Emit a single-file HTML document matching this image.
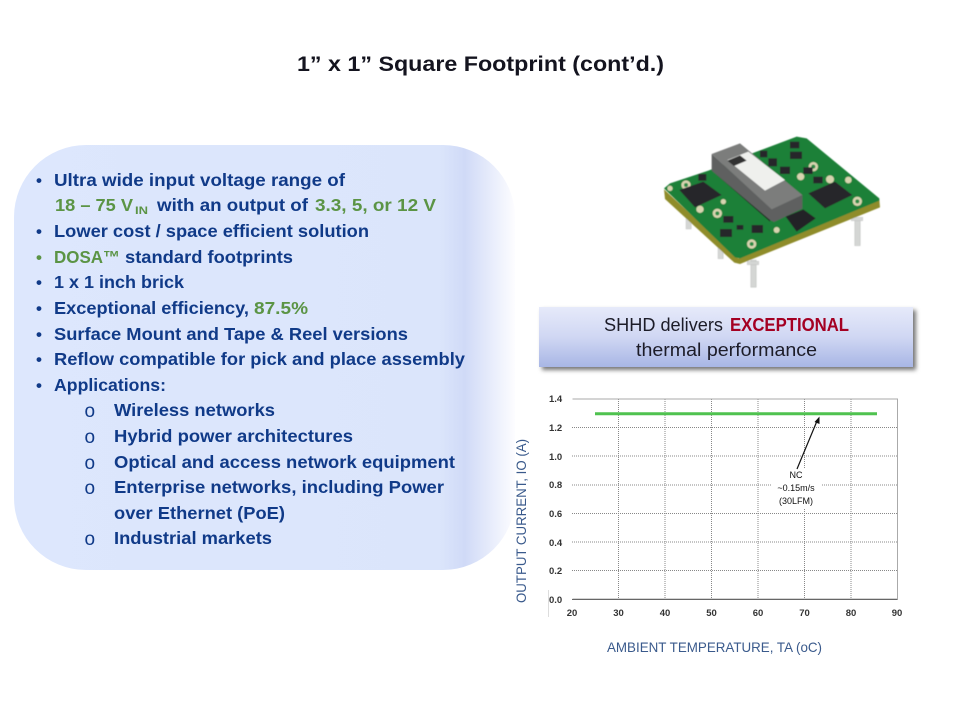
<!DOCTYPE html>
<html><head><meta charset="utf-8"><style>
html,body{margin:0;padding:0;background:#fff}
svg{display:block}
text{font-family:"Liberation Sans",sans-serif}
.b{font-size:17.5px;font-weight:bold;fill:#103a88}
.g{font-size:17.5px;font-weight:bold;fill:#5b9445}
.dot{font-size:17px;font-weight:bold;fill:#103a88}
.o{font-size:19px;fill:#103a88}
.t{font-size:9.5px;fill:#333;font-weight:bold}
.c{font-size:18px;fill:#1c1c28}
.ax{font-size:14px;fill:#3a5a8c}
.n{font-size:9px;fill:#111}
</style></head><body>
<svg width="960" height="720" viewBox="0 0 960 720" xmlns="http://www.w3.org/2000/svg">
<defs>
<linearGradient id="box" x1="0" x2="1" y1="0" y2="0">
<stop offset="0" stop-color="#dde7fd"/><stop offset=".85" stop-color="#dbe5fb"/><stop offset=".9" stop-color="#d0daf7"/><stop offset="1" stop-color="#fdfdff"/>
</linearGradient>
<linearGradient id="call" x1="0" x2="0" y1="0" y2="1">
<stop offset="0" stop-color="#e6eafa"/><stop offset=".5" stop-color="#d0d7f3"/><stop offset="1" stop-color="#a8b6e5"/>
</linearGradient>
<filter id="sh" x="-5%" y="-20%" width="110%" height="140%"><feGaussianBlur stdDeviation="2"/></filter>
<filter id="soft"><feGaussianBlur stdDeviation="1.3"/></filter>
</defs>
<rect width="960" height="720" fill="#fff"/>

<text x="297" y="71" font-size="21.5" font-weight="bold" fill="#14141f" textLength="367" lengthAdjust="spacingAndGlyphs">1” x 1” Square Footprint (cont’d.)</text>

<rect x="14" y="145" width="501" height="425" rx="72" ry="72" fill="url(#box)"/>

<text class="dot" x="36" y="186">•</text>
<text class="b" x="54" y="186" textLength="291" lengthAdjust="spacingAndGlyphs">Ultra wide input voltage range of</text>
<text class="g" x="55" y="211" textLength="78" lengthAdjust="spacingAndGlyphs">18 – 75 V</text>
<text class="g" x="135" y="214" style="font-size:11px" textLength="13" lengthAdjust="spacingAndGlyphs">IN</text>
<text class="b" x="157" y="211" textLength="151" lengthAdjust="spacingAndGlyphs">with an output of</text>
<text class="g" x="315" y="211" textLength="121" lengthAdjust="spacingAndGlyphs">3.3, 5, or 12 V</text>
<text class="dot" x="36" y="237">•</text>
<text class="b" x="54" y="237" textLength="315" lengthAdjust="spacingAndGlyphs">Lower cost / space efficient solution</text>
<text class="dot" x="36" y="263" style="fill:#5b9445">•</text>
<text class="g" x="54" y="263" textLength="66" lengthAdjust="spacingAndGlyphs">DOSA™</text>
<text class="b" x="125" y="263" textLength="168" lengthAdjust="spacingAndGlyphs">standard footprints</text>
<text class="dot" x="36" y="288">•</text>
<text class="b" x="54" y="288" textLength="130" lengthAdjust="spacingAndGlyphs">1 x 1 inch brick</text>
<text class="dot" x="36" y="314">•</text>
<text class="b" x="54" y="314" textLength="195" lengthAdjust="spacingAndGlyphs">Exceptional efficiency,</text>
<text class="g" x="254" y="314" textLength="54" lengthAdjust="spacingAndGlyphs">87.5%</text>
<text class="dot" x="36" y="340">•</text>
<text class="b" x="54" y="340" textLength="354" lengthAdjust="spacingAndGlyphs">Surface Mount and Tape &amp; Reel versions</text>
<text class="dot" x="36" y="365">•</text>
<text class="b" x="54" y="365" textLength="411" lengthAdjust="spacingAndGlyphs">Reflow compatible for pick and place assembly</text>
<text class="dot" x="36" y="391">•</text>
<text class="b" x="54" y="391" textLength="112" lengthAdjust="spacingAndGlyphs">Applications:</text>

<text class="o" x="84.5" y="417">o</text>
<text class="b" x="114" y="416" textLength="161" lengthAdjust="spacingAndGlyphs">Wireless networks</text>
<text class="o" x="84.5" y="443">o</text>
<text class="b" x="114" y="442" textLength="239" lengthAdjust="spacingAndGlyphs">Hybrid power architectures</text>
<text class="o" x="84.5" y="469">o</text>
<text class="b" x="114" y="468" textLength="341" lengthAdjust="spacingAndGlyphs">Optical and access network equipment</text>
<text class="o" x="84.5" y="494">o</text>
<text class="b" x="114" y="493" textLength="330" lengthAdjust="spacingAndGlyphs">Enterprise networks, including Power</text>
<text class="b" x="114" y="519" textLength="171" lengthAdjust="spacingAndGlyphs">over Ethernet (PoE)</text>
<text class="o" x="84.5" y="545">o</text>
<text class="b" x="114" y="544" textLength="158" lengthAdjust="spacingAndGlyphs">Industrial markets</text>

<!-- module -->
<g transform="translate(640,130) scale(.33333)">
<g filter="url(#soft)">
<g fill="#d4d6d4" stroke="#b4b6b4" stroke-width="1">
<rect x="138" y="262" width="16" height="35"/><rect x="234" y="350" width="16" height="36"/>
<rect x="332" y="390" width="17" height="82"/><rect x="644" y="265" width="17" height="82"/>
<rect x="322" y="394" width="34" height="10"/><rect x="634" y="262" width="34" height="10"/>
</g>
<polygon points="72,178 295,385 718,208 720,232 300,402 283,398 75,207" fill="#8f8c2c"/>
<polygon points="72,175 90,160 205,122 350,65 470,20 500,25 718,205 718,212 300,385 285,382" fill="#1f8038"/>
<g fill="#d8d4b0"><circle cx="138" cy="165" r="14"/><circle cx="232" cy="250" r="14"/><circle cx="335" cy="342" r="14"/><circle cx="652" cy="214" r="14"/><circle cx="520" cy="110" r="14"/><circle cx="570" cy="148" r="12"/><circle cx="482" cy="140" r="11"/><circle cx="90" cy="175" r="8"/><circle cx="180" cy="238" r="11"/><circle cx="625" cy="150" r="10"/><circle cx="410" cy="300" r="9"/><circle cx="250" cy="215" r="8"/></g>
<g fill="#2a8a45"><circle cx="138" cy="165" r="6"/><circle cx="232" cy="250" r="6"/><circle cx="335" cy="342" r="6"/><circle cx="652" cy="214" r="6"/><circle cx="520" cy="110" r="6"/></g>
<g fill="#26282a">
<polygon points="118,180 190,155 245,195 165,232"/>
<polygon points="505,190 585,155 637,195 555,235"/>
<rect x="250" y="258" width="30" height="20"/><rect x="240" y="297" width="36" height="24"/><rect x="335" y="285" width="34" height="24"/><rect x="290" y="285" width="20" height="14"/>
<rect x="360" y="62" width="22" height="20"/><rect x="385" y="85" width="26" height="24"/><rect x="420" y="110" width="30" height="22"/><rect x="450" y="35" width="28" height="20"/><rect x="450" y="65" width="36" height="22"/><rect x="490" y="112" width="28" height="20"/><rect x="520" y="140" width="28" height="20"/><rect x="175" y="132" width="24" height="20"/>
</g>
<polygon points="225,130 390,275 395,240 225,90" fill="#1d2a20"/>
<polygon points="215,72 215,122 390,270 402,276 487,236 487,195 395,235" fill="#5f6160"/>
<polygon points="215,72 300,40 487,195 395,238" fill="#7b7d7c"/>
<polygon points="262,90 325,65 435,150 375,182" fill="#eff0ed"/>
<polygon points="262,92 300,76 320,92 282,108" fill="#333"/>
<polygon points="437,260 490,238 527,265 470,305" fill="#222425"/>
</g>
</g>

<!-- callout -->
<rect x="542" y="310" width="374" height="60" fill="#777" filter="url(#sh)"/>
<rect x="539" y="307" width="374" height="60" fill="url(#call)"/>
<text class="c" x="604" y="331" textLength="119" lengthAdjust="spacingAndGlyphs">SHHD delivers</text>
<text class="c" x="730" y="331" style="font-weight:bold;fill:#a40022" textLength="119" lengthAdjust="spacingAndGlyphs">EXCEPTIONAL</text>
<text class="c" x="636" y="356" textLength="181" lengthAdjust="spacingAndGlyphs">thermal performance</text>

<!-- chart -->
<g stroke="#888" stroke-width="1" fill="none">
<g stroke-dasharray="1 1">
<path d="M572 427.5H897M572 456H897M572 485H897M572 513.5H897M572 542H897M572 570.5H897"/>
<path d="M618.5 399V599M665 399V599M711.5 399V599M758 399V599M804.5 399V599M851 399V599"/>
</g>
<path d="M572.5 399H897.5V599H572.5" stroke="#aaa"/>
<path d="M572 599.5H897.5" stroke="#666"/>
<path d="M548.5 590V617" stroke="#ddd"/>
</g>
<rect x="771" y="468" width="50" height="40" fill="#fff"/>
<path d="M595 413.7H877" stroke="#4fc24f" stroke-width="3"/>
<path d="M797 469L817 421" stroke="#111" stroke-width="1.2"/>
<polygon points="819.5,416.5 819.5,424 814.5,422" fill="#111"/>
<text class="n" x="796" y="478" text-anchor="middle">NC</text>
<text class="n" x="796" y="491" text-anchor="middle">~0.15m/s</text>
<text class="n" x="796" y="504" text-anchor="middle">(30LFM)</text>

<text class="t" x="549" y="402">1.4</text><text class="t" x="549" y="431">1.2</text><text class="t" x="549" y="460">1.0</text><text class="t" x="549" y="488">0.8</text><text class="t" x="549" y="517">0.6</text><text class="t" x="549" y="546">0.4</text><text class="t" x="549" y="574">0.2</text><text class="t" x="549" y="603">0.0</text>
<g text-anchor="middle">
<text class="t" x="572" y="616">20</text><text class="t" x="618.5" y="616">30</text><text class="t" x="665" y="616">40</text><text class="t" x="711.5" y="616">50</text><text class="t" x="758" y="616">60</text><text class="t" x="804.5" y="616">70</text><text class="t" x="851" y="616">80</text><text class="t" x="897" y="616">90</text>
</g>

<text class="ax" transform="translate(526,603) rotate(-90)" textLength="164" lengthAdjust="spacingAndGlyphs">OUTPUT CURRENT, IO (A)</text>
<text class="ax" x="607" y="652" textLength="215" lengthAdjust="spacingAndGlyphs">AMBIENT TEMPERATURE, TA (oC)</text>
</svg>
</body></html>
